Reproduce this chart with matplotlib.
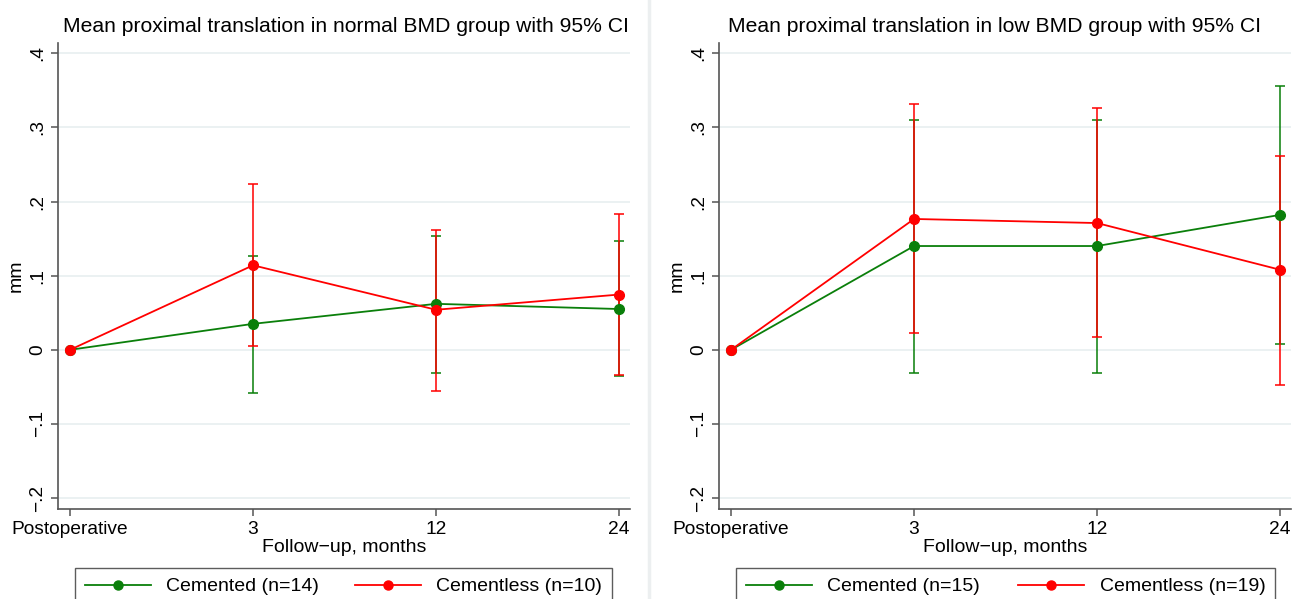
import numpy as np
import matplotlib
matplotlib.use('Agg')
import matplotlib.pyplot as plt
from matplotlib.lines import Line2D

plt.rcParams['font.family'] = ['Liberation Sans', 'DejaVu Sans']

visits = ['Postoperative', '3', '12', '24']
y_ticks = [-0.2, -0.1, 0, 0.1, 0.2, 0.3, 0.4]
y_tick_labels = ['\u2212.2', '\u2212.1', '0', '.1', '.2', '.3', '.4']

# normal BMD group
normal_cem_mean = [0, 0.035, 0.062, 0.055]
normal_cem_lo = [0, -0.058, -0.031, -0.036]
normal_cem_hi = [0, 0.126, 0.153, 0.147]
normal_cless_mean = [0, 0.114, 0.054, 0.0745]
normal_cless_lo = [0, 0.005, -0.055, -0.034]
normal_cless_hi = [0, 0.223, 0.162, 0.183]

# low BMD group
low_cem_mean = [0, 0.140, 0.140, 0.182]
low_cem_lo = [0, -0.031, -0.031, 0.008]
low_cem_hi = [0, 0.310, 0.310, 0.356]
low_cless_mean = [0, 0.1765, 0.171, 0.108]
low_cless_lo = [0, 0.022, 0.017, -0.047]
low_cless_hi = [0, 0.331, 0.326, 0.262]

GREEN = '#0a7f0a'
RED = '#ff0000'
AX_COL = '#555555'

W, H = 1305, 599


def draw_panel(ax, cem, cless):
    x = np.arange(len(visits))
    for (mean, lo, hi), col in ((cem, GREEN), (cless, RED)):
        mean = np.array(mean)
        lo = np.array(lo)
        hi = np.array(hi)
        ax.errorbar(x[1:], mean[1:], yerr=[mean[1:] - lo[1:], hi[1:] - mean[1:]],
                    fmt='none', ecolor=col, elinewidth=1.3, capsize=3.3,
                    capthick=1.3, alpha=0.85, zorder=2)
    for mean, col in ((cem[0], GREEN), (cless[0], RED)):
        ax.plot(x, mean, color=col, lw=1.3, marker='o', ms=7, zorder=3)

    ax.set_xlim(-0.066, 3.06)
    ax.set_ylim(-0.2148, 0.4139)
    ax.set_yticks(y_ticks)
    ax.set_yticklabels(y_tick_labels, rotation=90, va='center', fontsize=13.8)
    ax.set_xticks(x)
    ax.set_xticklabels(visits, fontsize=13.8)
    ax.grid(axis='y', color='#e8eff0', lw=1.2)
    ax.set_axisbelow(True)
    for s in ('top', 'right'):
        ax.spines[s].set_visible(False)
    for s in ('left', 'bottom'):
        ax.spines[s].set_color(AX_COL)
        ax.spines[s].set_linewidth(1.2)
    ax.tick_params(colors=AX_COL, labelcolor='black', length=5, width=1.1)
    ax.tick_params(axis='x', pad=3.5)
    ax.set_ylabel('mm', fontsize=14, labelpad=3)
    ax.set_xlabel('Follow\u2212up, months', fontsize=14, labelpad=0.5)


fig = plt.figure(figsize=(W / 100, H / 100), dpi=100)
ax1 = fig.add_axes([58 / W, 1 - 509 / H, 572 / W, 466 / H])
ax2 = fig.add_axes([719 / W, 1 - 509 / H, 572 / W, 466 / H])

draw_panel(ax1, (normal_cem_mean, normal_cem_lo, normal_cem_hi),
           (normal_cless_mean, normal_cless_lo, normal_cless_hi))
draw_panel(ax2, (low_cem_mean, low_cem_lo, low_cem_hi),
           (low_cless_mean, low_cless_lo, low_cless_hi))

fig.text(346 / W, 1 - 26 / H, 'Mean proximal translation in normal BMD group with 95% CI',
         ha='center', va='center', fontsize=15.2)
fig.text(995 / W, 1 - 26 / H, 'Mean proximal translation in low BMD group with 95% CI',
         ha='center', va='center', fontsize=15.2)

# separator between the two graphs
fig.add_artist(Line2D([649 / W, 649 / W], [0, 1], color='#eceff0', lw=2.5))

for ax, labels, x0, x1 in ((ax1, ('Cemented (n=14)', 'Cementless (n=10)'), 75, 612),
                           (ax2, ('Cemented (n=15)', 'Cementless (n=19)'), 736, 1275)):
    handles = [Line2D([], [], color=GREEN, lw=1.3, marker='o', ms=6.5),
               Line2D([], [], color=RED, lw=1.3, marker='o', ms=6.5)]
    leg = fig.legend(handles, labels, loc='upper left', ncol=2, mode='expand',
                     bbox_to_anchor=(x0 / W, 1 - 568 / H, (x1 - x0) / W, 0.0),
                     fontsize=14, frameon=True, fancybox=False, handlelength=3.4,
                     handletextpad=0.8, borderpad=0.5, columnspacing=2.0,
                     borderaxespad=0)
    leg.get_frame().set_edgecolor('#333333')
    leg.get_frame().set_linewidth(1.0)

fig.savefig('out.png', dpi=100)
